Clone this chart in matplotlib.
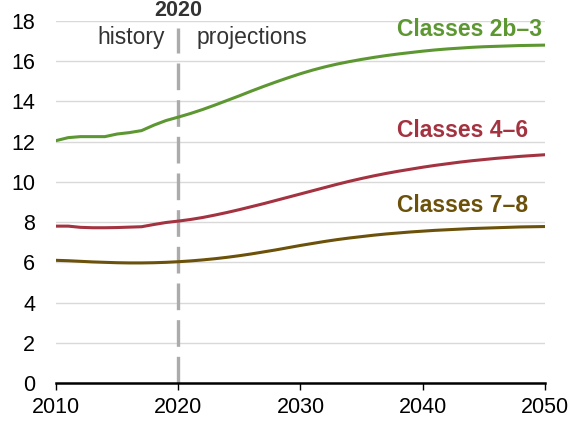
import matplotlib
matplotlib.use("Agg")
import matplotlib.pyplot as plt
import numpy as np

plt.rcParams['font.family'] = ['Liberation Sans', 'DejaVu Sans']

years = list(range(2010, 2051))
classes_2b_3 = [12.05, 12.2, 12.25, 12.25, 12.25, 12.38, 12.45, 12.55, 12.82, 13.05,
                13.22, 13.4, 13.6, 13.82, 14.05, 14.28, 14.52, 14.75, 14.97, 15.18,
                15.38, 15.56, 15.72, 15.86, 15.98, 16.09, 16.19, 16.28, 16.36, 16.43,
                16.5, 16.56, 16.61, 16.65, 16.69, 16.72, 16.74, 16.76, 16.78, 16.79, 16.8]
classes_4_6 = [7.8, 7.8, 7.74, 7.72, 7.72, 7.73, 7.75, 7.77, 7.88, 7.98,
               8.05, 8.13, 8.23, 8.35, 8.48, 8.62, 8.77, 8.92, 9.08, 9.24,
               9.4, 9.56, 9.72, 9.88, 10.03, 10.17, 10.3, 10.42, 10.53, 10.63,
               10.73, 10.82, 10.9, 10.98, 11.05, 11.11, 11.17, 11.22, 11.27, 11.31, 11.35]
classes_7_8 = [6.1, 6.08, 6.05, 6.02, 6.0, 5.98, 5.97, 5.97, 5.98, 6.0,
               6.03, 6.07, 6.12, 6.18, 6.25, 6.33, 6.42, 6.52, 6.62, 6.73,
               6.84, 6.94, 7.04, 7.13, 7.21, 7.28, 7.35, 7.41, 7.46, 7.51,
               7.55, 7.59, 7.62, 7.65, 7.68, 7.7, 7.72, 7.74, 7.76, 7.77, 7.78]
series_labels = ["Classes 2b\u20133", "Classes 4\u20136", "Classes 7\u20138"]
label_y = [17.6, 12.55, 8.85]
colors = ["#5d9732", "#a33340", "#6b5109"]
x_ticks = [2010, 2020, 2030, 2040, 2050]
y_ticks = list(range(0, 19, 2))

fig = plt.figure(figsize=(5.76, 4.24), dpi=100)
ax = fig.add_axes([0.0972, 0.0967, 0.849, 0.8538])

for yt in y_ticks[1:]:
    ax.axhline(yt, color="#d9d9d9", lw=1.0, zorder=0)

for vals, c in zip([classes_2b_3, classes_4_6, classes_7_8], colors):
    ax.plot(years, vals, color=c, lw=2.2, zorder=3)

for lab, ly, c in zip(series_labels, label_y, colors):
    ax.text(2037.9, ly, lab, color=c, fontsize=16.5, fontweight='bold',
            ha='left', va='center')

ax.plot([2020, 2020], [0, 17.65], color="#ababab", lw=2.4, ls=(0, (8, 3)), zorder=2)
ax.text(2020, 18.5, "2020", fontsize=15.5, fontweight='bold', ha='center', va='center', color="#333333")
ax.text(2018.9, 17.2, "history", fontsize=16.5, ha='right', va='center', color="#333333")
ax.text(2021.5, 17.2, "projections", fontsize=16.5, ha='left', va='center', color="#333333")

ax.set_xlim(2010, 2050)
ax.set_ylim(0, 18)
ax.set_xticks(x_ticks)
ax.set_yticks(y_ticks)
ax.tick_params(axis='x', direction='out', length=5, width=1.0, labelsize=15.5, color='black', pad=5)
ax.tick_params(axis='y', length=0, labelsize=15.5, pad=15)
for s in ['top', 'right', 'left']:
    ax.spines[s].set_visible(False)
ax.spines['bottom'].set_linewidth(1.8)
ax.spines['bottom'].set_zorder(4)

fig.savefig("out.png", dpi=100)
